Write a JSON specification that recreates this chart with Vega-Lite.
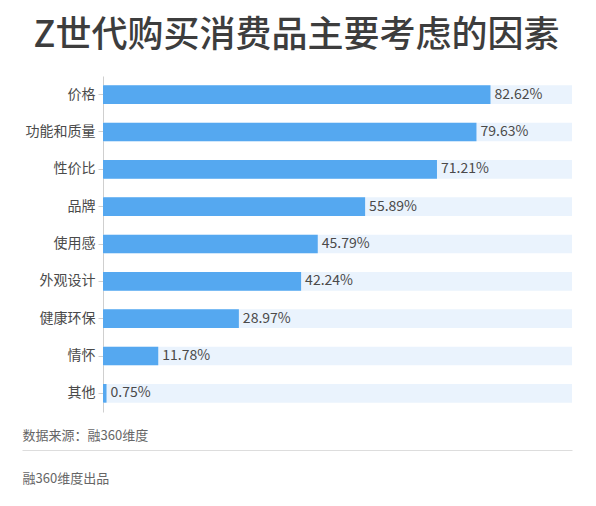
{
  "$schema": "https://vega.github.io/schema/vega-lite/v6.json",
  "autosize": "none",
  "width": 469,
  "height": 336,
  "padding": {"left": 103, "top": 76, "right": 24, "bottom": 94},
  "background": "#ffffff",
  "config": {
    "font": "Noto Sans CJK SC",
    "view": {"stroke": null}
  },
  "title": {
    "text": "Z世代购买消费品主要考虑的因素",
    "fontSize": 36,
    "fontWeight": 500,
    "color": "#3d3d3d",
    "anchor": "middle",
    "frame": "group",
    "dx": -41,
    "offset": 21
  },
  "data": {
    "values": [
      {"factor": "价格", "pct": 82.62, "label": "82.62%", "full": 100},
      {"factor": "功能和质量", "pct": 79.63, "label": "79.63%", "full": 100},
      {"factor": "性价比", "pct": 71.21, "label": "71.21%", "full": 100},
      {"factor": "品牌", "pct": 55.89, "label": "55.89%", "full": 100},
      {"factor": "使用感", "pct": 45.79, "label": "45.79%", "full": 100},
      {"factor": "外观设计", "pct": 42.24, "label": "42.24%", "full": 100},
      {"factor": "健康环保", "pct": 28.97, "label": "28.97%", "full": 100},
      {"factor": "情怀", "pct": 11.78, "label": "11.78%", "full": 100},
      {"factor": "其他", "pct": 0.75, "label": "0.75%", "full": 100}
    ]
  },
  "resolve": {"scale": {"x": "independent"}, "axis": {"x": "independent"}},
  "layer": [
    {
      "encoding": {
        "y": {
          "field": "factor",
          "type": "nominal",
          "sort": null,
          "scale": {"paddingInner": 0.5, "paddingOuter": 0.25},
          "axis": {
            "title": null,
            "domainColor": "#cfcfcf",
            "tickColor": "#cfcfcf",
            "tickSize": 5,
            "labelPadding": 3,
            "labelFontSize": 14,
            "labelColor": "#4a4a4a"
          }
        }
      },
      "layer": [
        {
          "mark": {"type": "bar", "color": "#eaf3fd"},
          "encoding": {
            "x": {
              "field": "full",
              "type": "quantitative",
              "scale": {"domain": [0, 100]},
              "axis": {
                "domain": false,
                "ticks": false,
                "labels": false,
                "grid": false,
                "title": "数据来源：融360维度",
                "titleFontSize": 13,
                "titleFontWeight": "normal",
                "titleColor": "#666666",
                "titleAnchor": "start",
                "titleAlign": "left",
                "titleBaseline": "alphabetic",
                "titleX": -81,
                "titleY": 27
              }
            }
          }
        },
        {
          "mark": {"type": "bar", "color": "#55a8f0"},
          "encoding": {
            "x": {"field": "pct", "type": "quantitative"}
          }
        },
        {
          "mark": {"type": "text", "align": "left", "dx": 4, "fontSize": 14, "color": "#4a4a4a"},
          "encoding": {
            "x": {"field": "pct", "type": "quantitative"},
            "text": {"field": "label", "type": "nominal"}
          }
        }
      ]
    },
    {
      "mark": {"type": "rule", "opacity": 0},
      "encoding": {
        "x": {
          "datum": 0,
          "type": "quantitative",
          "scale": {"domain": [0, 1], "range": [-81, 469]},
          "axis": {
            "orient": "bottom",
            "offset": 38,
            "domain": true,
            "domainColor": "#dddddd",
            "ticks": false,
            "labels": false,
            "grid": false,
            "title": "融360维度出品",
            "titleFontSize": 13,
            "titleFontWeight": "normal",
            "titleColor": "#666666",
            "titleAnchor": "start",
            "titleAlign": "left",
            "titleBaseline": "alphabetic",
            "titleX": -81,
            "titleY": 32
          }
        }
      }
    }
  ]
}
